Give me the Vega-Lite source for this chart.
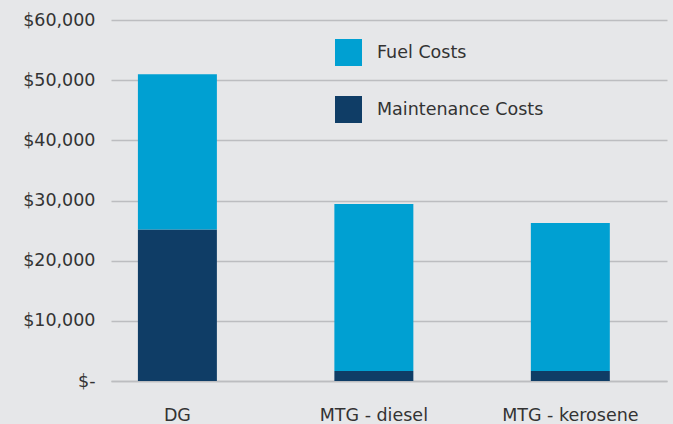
{
  "$schema": "https://vega.github.io/schema/vega-lite/v6.json",
  "width": 556,
  "height": 361,
  "autosize": {"type": "none"},
  "padding": {"left": 111, "top": 20, "right": 6, "bottom": 43},
  "background": "#e6e7e9",
  "config": {
    "view": {"stroke": null},
    "font": "DejaVu Sans"
  },
  "data": {
    "values": [
      {"System": "DG", "Type": "Maintenance Costs", "Cost": 25200},
      {"System": "DG", "Type": "Fuel Costs", "Cost": 25800},
      {"System": "MTG - diesel", "Type": "Maintenance Costs", "Cost": 1650},
      {"System": "MTG - diesel", "Type": "Fuel Costs", "Cost": 27750},
      {"System": "MTG - kerosene", "Type": "Maintenance Costs", "Cost": 1650},
      {"System": "MTG - kerosene", "Type": "Fuel Costs", "Cost": 24600}
    ]
  },
  "mark": {"type": "bar"},
  "encoding": {
    "x": {
      "field": "System",
      "type": "nominal",
      "sort": ["DG", "MTG - diesel", "MTG - kerosene"],
      "scale": {"paddingInner": 0.598, "paddingOuter": 0.214, "align": 0.32},
      "axis": {
        "title": null,
        "labelAngle": 0,
        "labelFontSize": 17.5,
        "labelColor": "#333333",
        "labelPadding": 25,
        "labelLimit": 300,
        "ticks": false,
        "domain": true,
        "domainColor": "#bcbdc0",
        "domainWidth": 1.5
      }
    },
    "y": {
      "field": "Cost",
      "type": "quantitative",
      "aggregate": "sum",
      "stack": "zero",
      "scale": {"domain": [0, 60000], "nice": false},
      "axis": {
        "title": null,
        "values": [0, 10000, 20000, 30000, 40000, 50000, 60000],
        "labelExpr": "datum.value == 0 ? '$-' : '$' + format(datum.value, ',')",
        "labelFontSize": 17.5,
        "labelColor": "#333333",
        "labelPadding": 16,
        "ticks": false,
        "domain": false,
        "grid": true,
        "gridColor": "#bcbdc0",
        "gridWidth": 1.5
      }
    },
    "color": {
      "field": "Type",
      "type": "nominal",
      "scale": {
        "domain": ["Fuel Costs", "Maintenance Costs"],
        "range": ["#00a0d2", "#0f3d66"]
      },
      "legend": {
        "title": null,
        "orient": "none",
        "legendX": 224,
        "legendY": 19,
        "symbolType": "square",
        "symbolSize": 729,
        "symbolStrokeWidth": 0,
        "labelFontSize": 17.5,
        "labelColor": "#333333",
        "labelOffset": 15,
        "labelLimit": 300,
        "rowPadding": 30
      }
    },
    "order": {"field": "Type", "sort": "descending"}
  }
}
